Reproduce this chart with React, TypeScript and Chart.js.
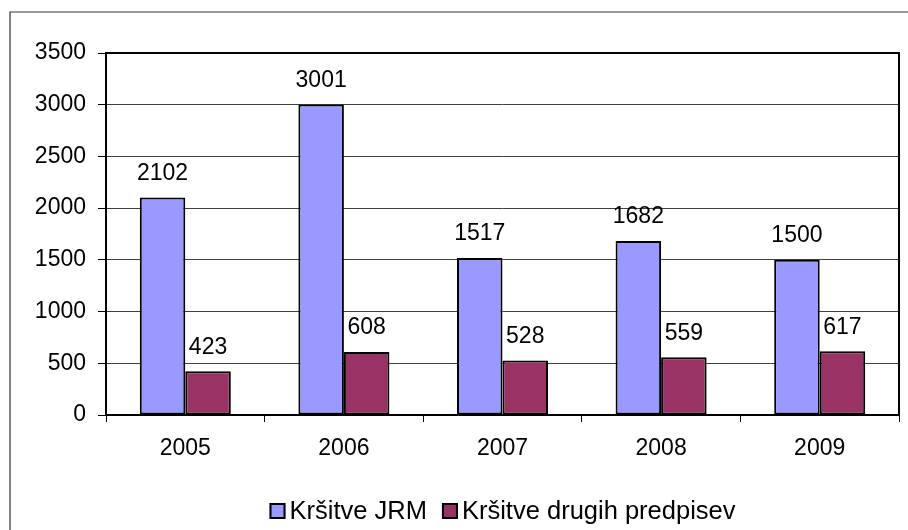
import React, { useEffect, useRef } from "react";
import { Chart, registerables } from "chart.js";

Chart.register(...registerables);

const categories = ["2005", "2006", "2007", "2008", "2009"];
const seriesJRM = [2102, 3001, 1517, 1682, 1500];
const seriesOther = [423, 608, 528, 559, 617];
const seriesNames = ["Kršitve JRM", "Kršitve drugih predpisev"];
const seriesColors = ["#9999FF", "#993366"];
const yTicks = { min: 0, max: 3500, step: 500 };

const FONT = "'Liberation Sans', Arial, sans-serif";

const framePlugin = {
  id: "frame",
  beforeDraw(chart: any) {
    const ctx = chart.ctx;
    ctx.save();
    ctx.fillStyle = "#fff";
    ctx.fillRect(0, 0, chart.width, chart.height);
    ctx.strokeStyle = "#333";
    ctx.lineWidth = 1.2;
    ctx.beginPath();
    ctx.moveTo(10, chart.height + 2);
    ctx.lineTo(10, 12);
    ctx.lineTo(chart.width + 2, 12);
    ctx.stroke();
    ctx.restore();
  },
  afterDatasetsDraw(chart: any) {
    const ctx = chart.ctx;
    const a = chart.chartArea;
    ctx.save();
    ctx.font = `23px ${FONT}`;
    ctx.fillStyle = "#000";
    ctx.textAlign = "center";
    ctx.textBaseline = "middle";
    chart.data.datasets.forEach((ds: any, i: number) => {
      const meta = chart.getDatasetMeta(i);
      meta.data.forEach((el: any, j: number) => {
        ctx.fillText(String(ds.data[j]), el.x, el.y - 24);
      });
    });
    ctx.strokeStyle = "#000";
    ctx.lineWidth = 2;
    ctx.strokeRect(a.left, a.top, a.right - a.left, a.bottom - a.top);
    ctx.restore();
  },
  afterDraw(chart: any) {
    const ctx = chart.ctx;
    const a = chart.chartArea;
    ctx.save();
    ctx.font = `25.5px ${FONT}`;
    ctx.textBaseline = "middle";
    ctx.textAlign = "left";
    const box = 16;
    const gapText = 4;
    const gapItem = 15;
    const widths = chart.data.datasets.map((d: any) => ctx.measureText(d.label).width);
    let total = 0;
    widths.forEach((w: number, i: number) => {
      total += box + gapText + w + (i < widths.length - 1 ? gapItem : 0);
    });
    let x = (a.left + a.right) / 2 - total / 2;
    const cy = 511;
    chart.data.datasets.forEach((d: any, i: number) => {
      ctx.fillStyle = d.backgroundColor;
      ctx.fillRect(x, cy - box / 2, box, box);
      ctx.strokeStyle = "#000";
      ctx.lineWidth = 2;
      ctx.strokeRect(x + 1, cy - box / 2 + 1, box - 2, box - 2);
      ctx.fillStyle = "#000";
      ctx.fillText(d.label, x + box + gapText, cy + 1);
      x += box + gapText + widths[i] + gapItem;
    });
    ctx.restore();
  },
};

export default function App() {
  const ref = useRef<HTMLCanvasElement | null>(null);
  useEffect(() => {
    if (!ref.current) return;
    const chart = new Chart(ref.current, {
      type: "bar",
      data: {
        labels: categories,
        datasets: [
          {
            label: seriesNames[0],
            data: seriesJRM,
            backgroundColor: seriesColors[0],
            borderColor: "#000",
            borderWidth: 2,
            borderSkipped: false,
            categoryPercentage: 0.574,
            barPercentage: 1,
          },
          {
            label: seriesNames[1],
            data: seriesOther,
            backgroundColor: seriesColors[1],
            borderColor: "#000",
            borderWidth: 2,
            borderSkipped: false,
            categoryPercentage: 0.574,
            barPercentage: 1,
          },
        ],
      },
      options: {
        responsive: false,
        animation: false,
        devicePixelRatio: 1,
        layout: { padding: { left: 0, right: 9, top: 53, bottom: 65 } },
        plugins: { legend: { display: false }, tooltip: { enabled: false } },
        scales: {
          x: {
            afterFit: (s: any) => {
              s.height = 50;
            },
            border: { display: false },
            grid: {
              offset: true,
              drawOnChartArea: false,
              drawTicks: true,
              tickLength: 7,
              tickColor: "#000",
              color: "#000",
            },
            ticks: { color: "#000", padding: 13, font: { family: FONT, size: 23 } },
          },
          y: {
            min: yTicks.min,
            max: yTicks.max,
            afterFit: (s: any) => {
              s.width = 106;
            },
            border: { display: false },
            grid: {
              color: "#404040",
              lineWidth: 1,
              tickLength: 8,
              tickColor: "#000",
            },
            ticks: {
              stepSize: yTicks.step,
              color: "#000",
              padding: 12,
              font: { family: FONT, size: 23 },
              callback: (v: any) => String(v),
            },
          },
        },
      },
      plugins: [framePlugin],
    });
    return () => chart.destroy();
  }, []);
  return (
    <div style={{ position: "fixed", left: 0, top: 0, width: 908, height: 530, background: "#fff" }}>
      <canvas ref={ref} width={908} height={530} style={{ display: "block", width: 908, height: 530 }} />
    </div>
  );
}
